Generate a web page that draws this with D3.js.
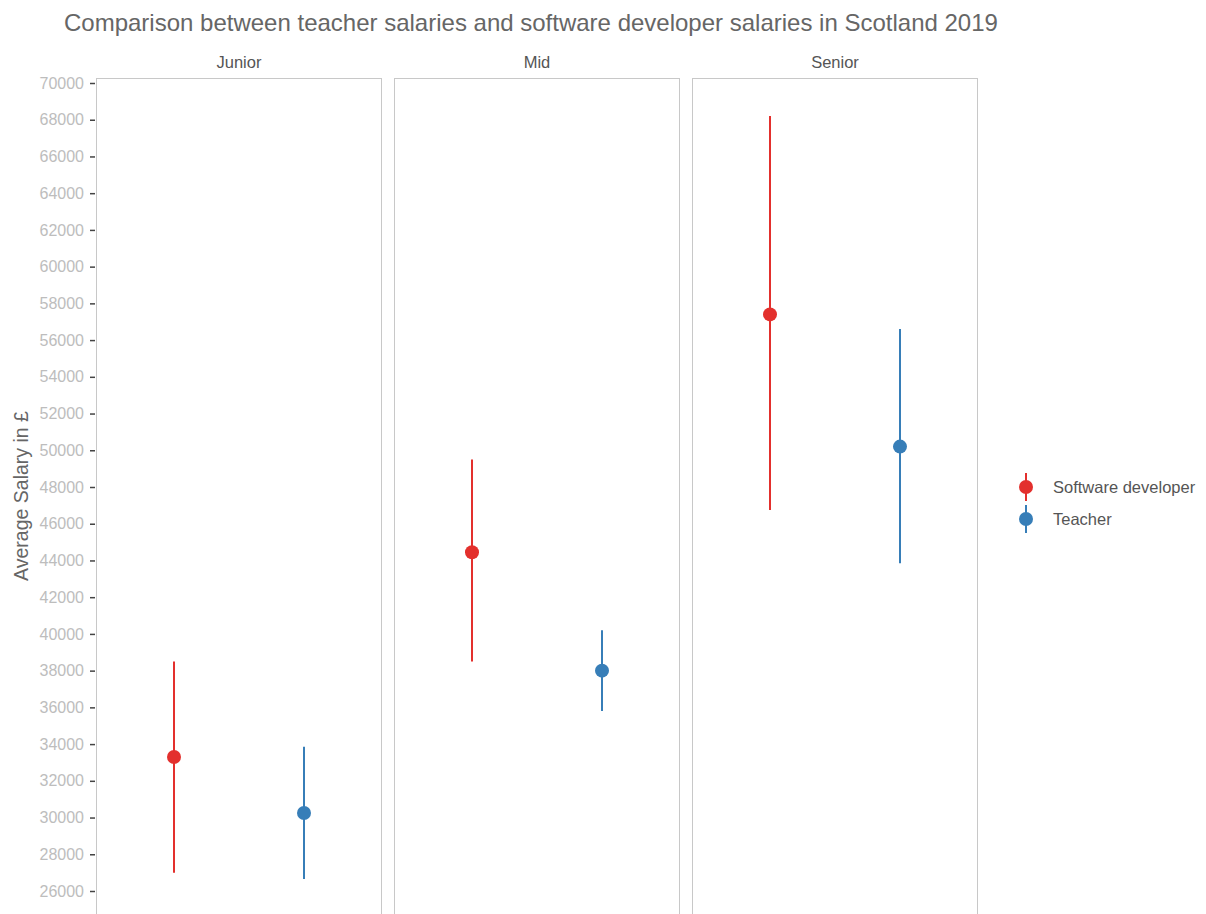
<!DOCTYPE html>
<html>
<head>
<meta charset="utf-8">
<script src="https://cdn.jsdelivr.net/npm/d3@7"></script>
<style>
  body { margin: 0; background: #fff; }
  text { font-family: "Liberation Sans", Arial, sans-serif; }
</style>
</head>
<body>
<div id="chart"></div>
<script>
// levels shown as facets
var levels = ["Junior", "Mid", "Senior"];
var jobs = ["Software developer", "Teacher"];
var jobColors = ["#E3302D", "#377EB8"];

// mean, low and high salary per level, one array per job
var devMean = [33300, 44450, 57400];
var devLow = [27000, 38500, 46750];
var devHigh = [38500, 49500, 68200];

var teachMean = [30250, 38000, 50200];
var teachLow = [26650, 35800, 43850];
var teachHigh = [33850, 40200, 56600];

var yTicks = d3.range(26000, 70001, 2000);

var width = 1206, height = 914;
var panelTop = 78, panelBottom = 914;
var panelW = 286, panelGap = 12, left = 96;

var svg = d3.select("#chart").append("svg")
    .attr("width", width)
    .attr("height", height);

var y = d3.scaleLinear().domain([26000, 70000]).range([891, 83]);
var color = d3.scaleOrdinal().domain(jobs).range(jobColors);

// build rows from the arrays
var rows = [];
levels.forEach(function(lv, i) {
    rows.push({level: lv, job: jobs[0], mean: devMean[i], low: devLow[i], high: devHigh[i]});
    rows.push({level: lv, job: jobs[1], mean: teachMean[i], low: teachLow[i], high: teachHigh[i]});
});

svg.append("text")
    .attr("x", 64).attr("y", 31)
    .attr("font-size", 24)
    .attr("fill", "#666")
    .text("Comparison between teacher salaries and software developer salaries in Scotland 2019");

// y axis
var yAxis = svg.append("g")
    .attr("transform", "translate(" + (left - 1) + ",0)")
    .call(d3.axisLeft(y).tickValues(yTicks).tickSize(5).tickPadding(6).tickFormat(d3.format("d")));
yAxis.select(".domain").remove();
yAxis.selectAll(".tick line").attr("stroke", "#444").attr("stroke-width", 1.5);
yAxis.selectAll(".tick text")
    .attr("fill", "#bdbdbd")
    .attr("font-size", 16)
    .style("font-family", "Liberation Sans, Arial, sans-serif");

svg.append("text")
    .attr("transform", "translate(28,496) rotate(-90)")
    .attr("text-anchor", "middle")
    .attr("font-size", 19.5)
    .attr("fill", "#666")
    .text("Average Salary in £");

levels.forEach(function(lv, i) {
    var x0 = left + i * (panelW + panelGap);
    var g = svg.append("g").attr("transform", "translate(" + x0 + ",0)");
    var x = d3.scalePoint().domain(jobs).range([0, panelW]).padding(0.6);

    g.append("rect")
        .attr("x", 0.5).attr("y", panelTop + 0.5)
        .attr("width", panelW - 1).attr("height", panelBottom - panelTop + 5)
        .attr("fill", "none")
        .attr("stroke", "#c8c8c8");

    g.append("text")
        .attr("x", panelW / 2).attr("y", 68)
        .attr("text-anchor", "middle")
        .attr("font-size", 16.5)
        .attr("fill", "#555")
        .text(lv);

    var d = rows.filter(function(r) { return r.level == lv; });

    g.selectAll("line.range")
        .data(d)
        .enter()
        .append("line")
        .attr("class", "range")
        .attr("x1", function(r) { return x(r.job); })
        .attr("x2", function(r) { return x(r.job); })
        .attr("y1", function(r) { return y(r.low); })
        .attr("y2", function(r) { return y(r.high); })
        .attr("stroke", function(r) { return color(r.job); })
        .attr("stroke-width", 2);

    g.selectAll("circle")
        .data(d)
        .enter()
        .append("circle")
        .attr("cx", function(r) { return x(r.job); })
        .attr("cy", function(r) { return y(r.mean); })
        .attr("r", 7)
        .attr("fill", function(r) { return color(r.job); });
});

// legend
var legend = svg.append("g").attr("transform", "translate(1026,487)");
jobs.forEach(function(j, i) {
    var lg = legend.append("g").attr("transform", "translate(0," + (i * 32) + ")");
    lg.append("line")
        .attr("y1", -14).attr("y2", 14)
        .attr("stroke", color(j)).attr("stroke-width", 2);
    lg.append("circle").attr("r", 7).attr("fill", color(j));
    lg.append("text")
        .attr("x", 27).attr("y", 6)
        .attr("font-size", 16.5)
        .attr("fill", "#555")
        .text(j);
});
</script>
</body>
</html>
